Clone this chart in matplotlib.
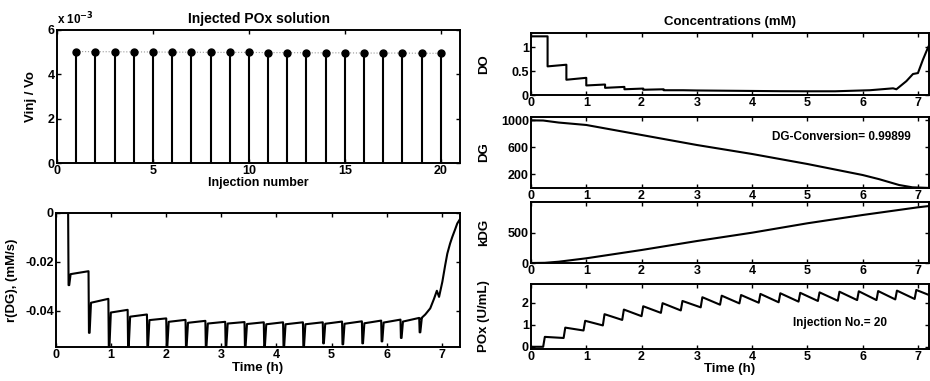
import matplotlib
matplotlib.use("Agg")
import matplotlib.pyplot as plt
import numpy as np

plt.rcParams['font.family'] = ['Liberation Sans', 'DejaVu Sans']
plt.rcParams['font.weight'] = 'bold'
plt.rcParams['font.size'] = 9
plt.rcParams['axes.unicode_minus'] = False

# ---------------- data ----------------
inj_number = list(range(1, 21))
vinj_vo = [5.03e-3, 5.02e-3, 5.02e-3, 5.01e-3, 5.01e-3, 5.00e-3, 5.00e-3, 4.99e-3, 4.99e-3, 4.99e-3,
           4.98e-3, 4.98e-3, 4.97e-3, 4.97e-3, 4.97e-3, 4.96e-3, 4.96e-3, 4.96e-3, 4.95e-3, 4.95e-3]

inj_times = [0.22, 0.59, 0.95, 1.30, 1.65, 2.00, 2.35, 2.71, 3.07, 3.42,
             3.77, 4.12, 4.48, 4.84, 5.19, 5.55, 5.90, 6.25, 6.59, 6.94]

# r(DG): level right after each injection, level just before next, and dip minimum
r_start = [-0.0250, -0.0367, -0.0407, -0.0424, -0.0438, -0.0445, -0.0449, -0.0452, -0.0452, -0.0454,
           -0.0455, -0.0455, -0.0455, -0.0453, -0.0453, -0.0451, -0.0448, -0.0444, -0.0434]
r_end = [-0.0238, -0.0351, -0.0396, -0.0415, -0.0431, -0.0437, -0.0441, -0.0445, -0.0446, -0.0447,
         -0.0447, -0.0447, -0.0447, -0.0444, -0.0443, -0.0440, -0.0436, -0.0429]
r_dip = [-0.0295, -0.0490, -0.0545, -0.0545, -0.0545, -0.0545, -0.0545, -0.0545, -0.0545, -0.0545,
         -0.0545, -0.0545, -0.0545, -0.0533, -0.0537, -0.0533, -0.0525, -0.0511, -0.0488]
r_tail_t = [6.62, 6.70, 6.79, 6.86, 6.91, 6.95, 7.01, 7.06, 7.10, 7.15, 7.19, 7.24, 7.28, 7.33]
r_tail_v = [-0.0432, -0.0415, -0.0390, -0.0350, -0.0318, -0.0343, -0.0281, -0.0215,
            -0.0166, -0.0125, -0.0098, -0.0068, -0.0043, -0.0025]

do_t = [0, 0.30, 0.30, 0.64, 0.64, 1.00, 1.00, 1.34, 1.34, 1.69, 1.69, 2.03, 2.03, 2.40, 2.40,
        2.75, 3.0, 3.5, 4.0, 4.5, 5.0, 5.5, 6.13, 6.55, 6.61, 6.79, 6.91, 7.00, 7.09, 7.18, 7.21]
do_v = [1.23, 1.23, 0.60, 0.635, 0.32, 0.36, 0.20, 0.22, 0.15, 0.17, 0.12, 0.135, 0.11, 0.12, 0.10,
        0.10, 0.095, 0.09, 0.085, 0.08, 0.078, 0.078, 0.10, 0.14, 0.12, 0.29, 0.44, 0.46, 0.74, 0.99, 1.06]

dg_t = [0, 0.22, 0.5, 1, 2, 3, 4, 5, 6, 6.3, 6.66, 6.9, 7.2]
dg_v = [1000, 998, 968, 932, 784, 636, 503, 355, 192, 130, 44, 10, 1]

kdg_t = [0, 0.25, 0.5, 1, 2, 3, 4, 5, 6, 7, 7.2]
kdg_v = [0, 3, 21, 77, 213, 360, 497, 651, 787, 913, 934]

pox_start = [0.45, 0.87, 1.18, 1.48, 1.69, 1.84, 1.98, 2.08, 2.25, 2.32,
             2.35, 2.40, 2.43, 2.45, 2.47, 2.50, 2.52, 2.53, 2.55, 2.58]
pox_end = [0.40, 0.74, 0.97, 1.22, 1.39, 1.54, 1.65, 1.79, 1.91, 1.97,
           2.00, 2.02, 2.05, 2.08, 2.09, 2.12, 2.12, 2.15, 2.17, 2.35]

# ---------------- figure ----------------
W, H = 930, 381
fig = plt.figure(figsize=(W / 100, H / 100), dpi=100)

def px_axes(l, t, r, b):
    return fig.add_axes([l / W, 1 - b / H, (r - l) / W, (b - t) / H])

def style(ax):
    for s in ax.spines.values():
        s.set_linewidth(1.4)
    ax.tick_params(direction='in', top=True, right=True, length=3, width=1,
                   labelsize=9, pad=1.5)

LW = 1.5

# Top-left: stem
ax1 = px_axes(57, 30, 460, 163)
ax1.plot(inj_number, vinj_vo, ':', color='0.6', lw=0.8)
ax1.vlines(inj_number, 0, vinj_vo, color='black', lw=1.5)
ax1.plot(inj_number, vinj_vo, 'o', color='black', ms=5)
ax1.set_xlim(0, 21)
ax1.set_ylim(0, 6e-3)
ax1.set_xticks([0, 5, 10, 15, 20])
ax1.set_yticks([0, 2e-3, 4e-3, 6e-3])
ax1.set_yticklabels(['0', '2', '4', '6'])
ax1.text(0.0, 1.02, r'x 10$^{\mathbf{-3}}$', transform=ax1.transAxes, fontsize=8.5,
         fontweight='bold', ha='left', va='bottom')
ax1.set_title('Injected POx solution', fontsize=10, fontweight='bold', pad=5)
ax1.set_xlabel('Injection number', fontsize=9, fontweight='bold', labelpad=0)
ax1.set_ylabel('Vinj / Vo', fontsize=9.5, fontweight='bold')
ax1.yaxis.set_label_coords(-0.05, 0.5)
style(ax1)

# Bottom-left: r(DG)
rt = [0.0, inj_times[0]]
rv = [0.0, 0.0]
prev = 0.0
for i in range(19):
    ti = inj_times[i]
    rt += [ti, ti + 0.008, ti + 0.02, ti + 0.045]
    rv += [prev, r_dip[i], r_dip[i], r_start[i]]
    if i < 18:
        rt.append(inj_times[i + 1])
        rv.append(r_end[i])
        prev = r_end[i]
rt += r_tail_t
rv += r_tail_v
ax2 = px_axes(56, 213, 460, 347)
ax2.plot(rt, rv, color='black', lw=LW)
ax2.set_xlim(0, 7.33)
ax2.set_ylim(-0.0548, 0)
ax2.set_xticks(range(0, 8))
ax2.set_yticks([0, -0.02, -0.04])
ax2.set_yticklabels(['0', '-0.02', '-0.04'])
ax2.set_xlabel('Time (h)', fontsize=9.5, fontweight='bold', labelpad=1)
ax2.set_ylabel('r(DG), (mM/s)', fontsize=9.5, fontweight='bold')
ax2.yaxis.set_label_coords(-0.094, 0.5)
style(ax2)

# Right panels
RL, RR = 531, 929
ax3 = px_axes(RL, 33, RR, 95)
ax3.plot(do_t, do_v, color='black', lw=LW)
ax3.set_ylim(0, 1.3)
ax3.set_yticks([0, 0.5, 1])
ax3.set_yticklabels(['0', '0.5', '1'])
ax3.set_ylabel('DO', fontsize=9.5, fontweight='bold')
ax3.set_title('Concentrations (mM)', fontsize=9.5, fontweight='bold', pad=6)

ax4 = px_axes(RL, 117, RR, 188)
ax4.plot(dg_t, dg_v, color='black', lw=LW)
ax4.set_ylim(0, 1050)
ax4.set_yticks([200, 600, 1000])
ax4.set_ylabel('DG', fontsize=9.5, fontweight='bold')
ax4.text(0.78, 0.72, 'DG-Conversion= 0.99899', transform=ax4.transAxes, ha='center',
         va='center', fontsize=8.5, fontweight='bold')

ax5 = px_axes(RL, 202, RR, 263)
ax5.plot(kdg_t, kdg_v, color='black', lw=LW)
ax5.set_ylim(0, 1000)
ax5.set_yticks([0, 500])
ax5.set_ylabel('kDG', fontsize=9.5, fontweight='bold')

pt = [0.0, inj_times[0]]
pv = [0.0, 0.0]
for i in range(20):
    ti = inj_times[i]
    pt += [ti + 0.03]
    pv += [pox_start[i]]
    nxt = inj_times[i + 1] if i < 19 else 7.2
    pt.append(nxt)
    pv.append(pox_end[i])
ax6 = px_axes(RL, 284, RR, 349)
ax6.plot(pt, pv, color='black', lw=LW)
ax6.set_ylim(-0.1, 2.85)
ax6.set_yticks([0, 1, 2])
ax6.set_ylabel('POx (U/mL)', fontsize=9.5, fontweight='bold')
ax6.set_xlabel('Time (h)', fontsize=9.5, fontweight='bold', labelpad=0)
ax6.text(0.776, 0.405, 'Injection No.= 20', transform=ax6.transAxes, ha='center',
         va='center', fontsize=8.5, fontweight='bold')

for ax in (ax3, ax4, ax5, ax6):
    ax.set_xlim(0, 7.2)
    ax.set_xticks(range(0, 8))
    ax.yaxis.set_label_coords(-0.103, 0.5)
    style(ax)

fig.savefig('out.png', dpi=100)
